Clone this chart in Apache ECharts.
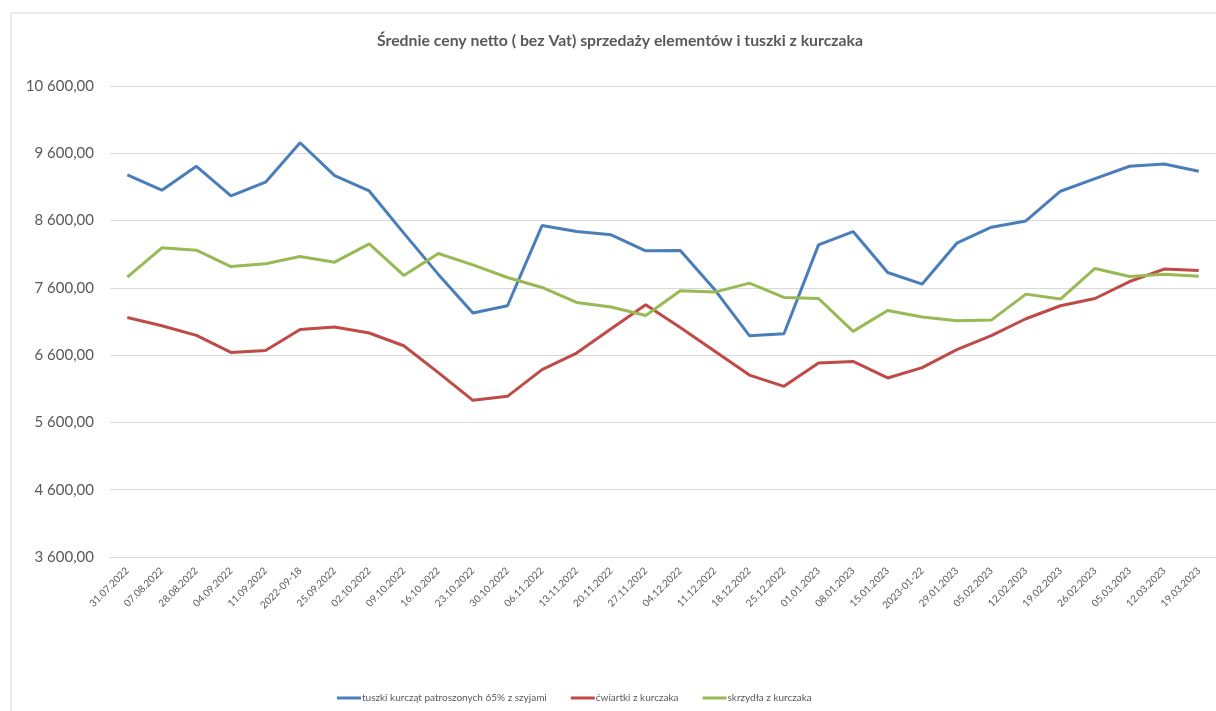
<!DOCTYPE html>
<html>
<head>
<meta charset="utf-8">
<script src="https://cdn.jsdelivr.net/npm/echarts@6/dist/echarts.min.js"></script>
<style>
html,body{margin:0;padding:0;background:#fff;}
#c{width:1216px;height:711px;}
</style>
</head>
<body>
<div id="c"></div>
<script>
const categories = ["31.07.2022","07.08.2022","28.08.2022","04.09.2022","11.09.2022","2022-09-18","25.09.2022","02.10.2022","09.10.2022","16.10.2022","23.10.2022","30.10.2022","06.11.2022","13.11.2022","20.11.2022","27.11.2022","04.12.2022","11.12.2022","18.12.2022","25.12.2022","01.01.2023","08.01.2023","15.01.2023","2023-01-22","29.01.2023","05.02.2023","12.02.2023","19.02.2023","26.02.2023","05.03.2023","12.03.2023","19.03.2023"];
const tuszki = [9278,9051,9407,8966,9170,9757,9268,9040,8413,7800,7226,7334,8526,8437,8388,8150,8155,7571,6889,6919,8239,8437,7828,7656,8264,8502,8595,9036,9223,9407,9441,9333];
const cwiartki = [7160,7037,6893,6641,6670,6982,7018,6929,6740,6340,5928,5988,6384,6631,6993,7349,7012,6659,6304,6136,6484,6507,6261,6414,6681,6889,7141,7334,7442,7694,7879,7859];
const skrzydla = [7760,8195,8160,7917,7957,8066,7982,8254,7784,8110,7942,7754,7606,7383,7315,7190,7557,7537,7671,7457,7442,6953,7264,7166,7111,7121,7507,7433,7888,7769,7804,7774];
const seriesNames = ["tuszki kurcząt patroszonych 65% z szyjami","ćwiartki z kurczaka","skrzydła z kurczaka"];
const colors = ["#4a7ebb","#be4b48","#98b954"];

function fmt(v){
  const s = Math.round(v).toString().replace(/\B(?=(\d{3})+(?!\d))/g, " ");
  return s + ",00";
}

const chart = echarts.init(document.getElementById('c'));
const font = "Lato, 'Open Sans', sans-serif";
chart.setOption({
  backgroundColor: "#fff",
  animation: false,
  graphic: [{
    type: 'rect', silent: true, z: -10,
    shape: {x: 11, y: 13, width: 1240, height: 740},
    style: {fill: 'none', stroke: '#d9d9d9', lineWidth: 1}
  }],
  title: {
    text: "Średnie ceny netto ( bez Vat) sprzedaży elementów i tuszki z kurczaka",
    left: 615, top: 28, textAlign: 'center',
    textStyle: {fontFamily: font, fontSize: 15.8, fontWeight: 'bold', color: '#595959'}
  },
  legend: {
    left: 332, top: 688,
    itemWidth: 24, itemHeight: 3, itemGap: 24,
    icon: 'rect',
    textStyle: {fontFamily: font, fontSize: 10, color: '#595959', padding: [0,0,0,-4]},
    data: seriesNames
  },
  grid: {left: 110, top: 86, width: 1109, height: 471, containLabel: false},
  xAxis: {
    type: 'category', data: categories, boundaryGap: true,
    axisLine: {show: true, lineStyle: {color: '#d9d9d9'}},
    axisTick: {show: false},
    axisLabel: {rotate: 45, fontFamily: font, fontSize: 10, color: '#595959', margin: 12, interval: 0}
  },
  yAxis: {
    type: 'value', min: 3600, max: 10600, interval: 1000,
    axisLine: {show: false}, axisTick: {show: false},
    splitLine: {lineStyle: {color: '#d9d9d9', width: 1}},
    axisLabel: {formatter: fmt, fontFamily: font, fontSize: 15, color: '#595959', margin: 16}
  },
  series: [
    {name: seriesNames[0], type: 'line', data: tuszki, symbol: 'none', lineStyle: {width: 3, color: colors[0]}, itemStyle: {color: colors[0]}},
    {name: seriesNames[1], type: 'line', data: cwiartki, symbol: 'none', lineStyle: {width: 3, color: colors[1]}, itemStyle: {color: colors[1]}},
    {name: seriesNames[2], type: 'line', data: skrzydla, symbol: 'none', lineStyle: {width: 3, color: colors[2]}, itemStyle: {color: colors[2]}}
  ]
});
</script>
</body>
</html>
